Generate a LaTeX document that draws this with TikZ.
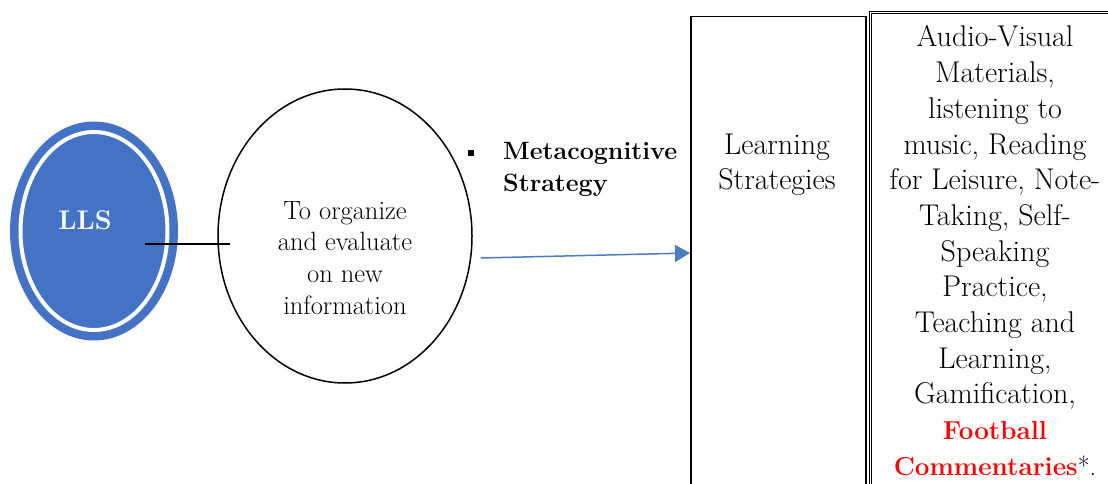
\documentclass[tikz,border=0pt]{standalone}
\usetikzlibrary{shapes.geometric,arrows.meta,calc}
\definecolor{llsblue}{HTML}{4472C4}
\definecolor{arrowblue}{HTML}{4A7EC3}
\definecolor{hired}{HTML}{FF0000}
\begin{document}
\begin{tikzpicture}[x=1pt,y=-1pt,
  frame/.style={draw=black,line width=1.5pt,rectangle,inner sep=0pt,anchor=north west},
  bigtext/.style={align=center,inner sep=0pt,font=\fontsize{30}{35.7}\selectfont},
  midtext/.style={align=center,inner sep=0pt,font=\fontsize{26.5}{31.7}\selectfont},
  boldlabel/.style={align=left,inner sep=0pt,anchor=west,font=\fontsize{25}{32}\selectfont\bfseries},
  link/.style={draw=black,line width=1.5pt},
  flow/.style={draw=arrowblue,line width=1.5pt,-{Triangle[length=15pt,width=17pt]}}]
\useasboundingbox (0,0) rectangle (1108,484);

% LLS double ellipse
\node[ellipse,fill=llsblue,inner sep=0pt,minimum width=168pt,minimum height=219pt] (lls) at (94,231) {};
\node[ellipse,draw=white,line width=4pt,inner sep=0pt,minimum width=147pt,minimum height=198pt] (llsring) at (94,231) {};
\node[inner sep=0pt,text=white,font=\fontsize{27}{30}\selectfont\bfseries] (llst) at (85,220) {LLS};

% middle ellipse
\node[ellipse,draw=black,line width=1.5pt,inner sep=0pt,minimum width=254pt,minimum height=294pt] (mid) at (345,236) {};
\node[midtext] (midt) at (345,260.5) {\strut To organize\\ \strut and evaluate\\ \strut on new\\ \strut information};

% bullet label
\node[fill=black,inner sep=0pt,minimum size=6pt] (bul) at (471,153) {};
\node[boldlabel] (meta) at (503,169) {\strut Metacognitive\\ \strut Strategy};

% learning strategies box
\node[frame,minimum width=175pt,minimum height=490pt] (ls) at (690,16) {};
\node[bigtext] (lst) at (777,165) {\strut Learning\\ \strut Strategies};

% right box
\node[frame,line width=0.8pt,double,double distance=1.2pt,minimum width=260pt,minimum height=495pt] (rb) at (870,12) {};
\node[bigtext] (rbt) at (995,254) {\strut Audio-Visual\\ \strut Materials,\\ \strut listening to\\ \strut music, Reading\\ \strut for Leisure, Note-\\ \strut Taking, Self-\\ \strut Speaking\\ \strut Practice,\\ \strut Teaching and\\ \strut Learning,\\ \strut Gamification,\\ \strut{\fontsize{26}{35.7}\selectfont\bfseries\color{hired}Football}\\ \strut{\fontsize{26}{35.7}\selectfont\bfseries\color{hired}Commentaries}{\fontsize{26}{35.7}\selectfont*.}};

% connectors
\coordinate (c1) at ($(lls.center)+(51,13)$);
\coordinate (c2) at ($(mid.west)+(13,8)$);
\draw[link] (c1) -- (c2);
\coordinate (a1) at ($(mid.east)+(8,22)$);
\coordinate (a2) at ($(ls.north west)+(0,237)$);
\draw[flow] (a1) -- (a2);
\end{tikzpicture}
\end{document}
